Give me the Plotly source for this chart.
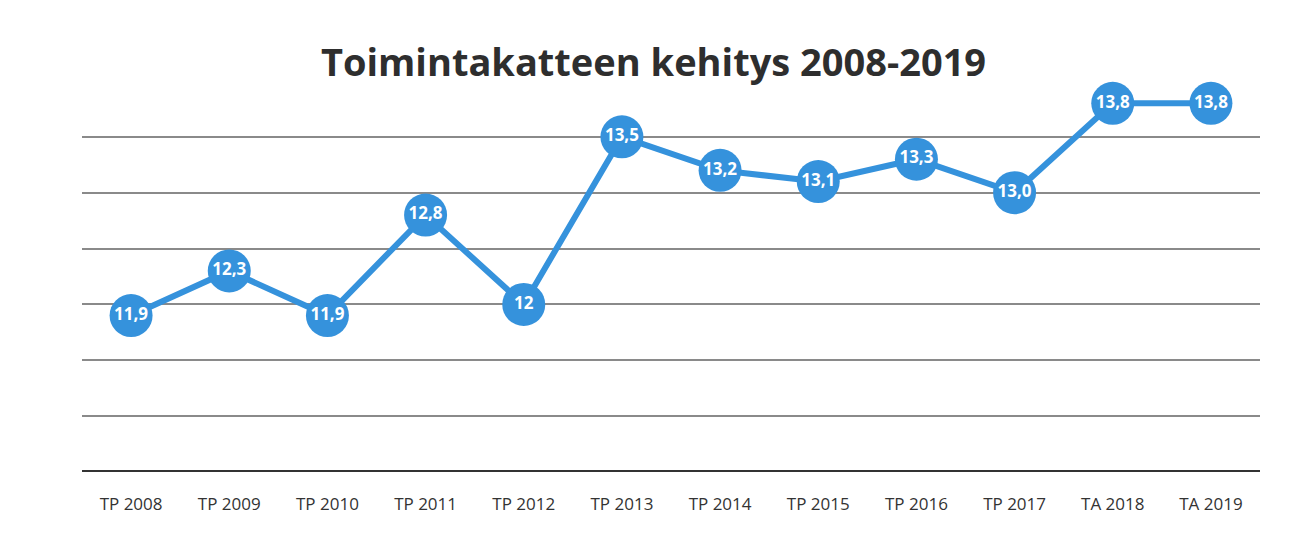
import plotly.graph_objects as go

categories = ["TP 2008", "TP 2009", "TP 2010", "TP 2011", "TP 2012", "TP 2013",
              "TP 2014", "TP 2015", "TP 2016", "TP 2017", "TA 2018", "TA 2019"]
values = [11.9, 12.3, 11.9, 12.8, 12.0, 13.5, 13.2, 13.1, 13.3, 13.0, 13.8, 13.8]
labels = ["11,9", "12,3", "11,9", "12,8", "12", "13,5", "13,2", "13,1", "13,3", "13,0", "13,8", "13,8"]
grid_vals = [11.0, 11.5, 12.0, 12.5, 13.0, 13.5]

blue = "#3592dc"

fig = go.Figure()
fig.add_trace(go.Scatter(
    x=categories, y=values, mode="lines+markers+text",
    text=labels, textposition="middle center",
    textfont=dict(family="Open Sans", size=17, color="white", weight="bold"),
    line=dict(color=blue, width=6),
    marker=dict(size=43, color=blue),
    cliponaxis=False,
    hoverinfo="skip",
))

fig.update_layout(
    width=1291, height=545,
    margin=dict(l=74, r=39, t=73, b=81),
    paper_bgcolor="white", plot_bgcolor="white",
    showlegend=False,
    title=dict(text="<b>Toimintakatteen kehitys 2008-2019</b>",
               x=0.5, xanchor="center", y=0.9, yanchor="middle",
               font=dict(family="Open Sans", size=38, color="#2e2e2e")),
    xaxis=dict(type="category", range=[-0.5, 11.5], showgrid=False, zeroline=False,
               showline=False, ticks="",
               ticklabelstandoff=20,
               tickfont=dict(family="Open Sans", size=17, color="#333333")),
    yaxis=dict(range=[10.5, 14.0], tickvals=grid_vals, showticklabels=False,
               showgrid=True, gridcolor="#8a8a8a", gridwidth=1.5,
               zeroline=False, showline=False, ticks=""),
)
fig.add_hline(y=10.5, line=dict(color="#333333", width=4), layer="below")

fig.write_html("out.html")
